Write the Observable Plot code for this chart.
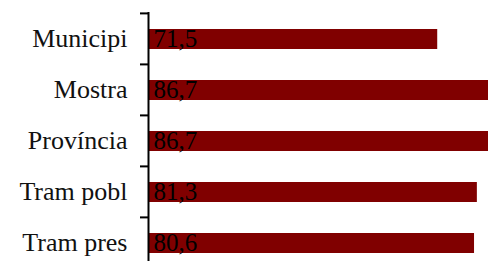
<!DOCTYPE html>
<html>
<head>
<meta charset="utf-8">
<script src="https://cdn.jsdelivr.net/npm/d3@7"></script>
<script src="https://cdn.jsdelivr.net/npm/@observablehq/plot@0.6"></script>
<style>
  html, body { margin: 0; padding: 0; background: #fff; overflow: hidden; }
  svg { overflow: hidden !important; }
</style>
</head>
<body>
<div id="chart"></div>
<script>
const categories = ["Municipi", "Mostra", "Província", "Tram pobl", "Tram pres"];
const values = [71.5, 86.7, 86.7, 81.3, 80.6];
const valueLabels = ["71,5", "86,7", "86,7", "81,3", "80,6"];

const data = categories.map((c, i) => ({cat: c, value: values[i], label: valueLabels[i]}));
const font = "'Liberation Serif', serif";

const chart = Plot.plot({
  width: 488,
  height: 261,
  marginLeft: 148,
  marginTop: 12,
  marginBottom: 0,
  marginRight: 0,
  style: {fontFamily: font, background: "#fff"},
  x: {domain: [0, 100], range: [148, 552.5], axis: null},
  y: {domain: categories, range: [12, 268], padding: 0, axis: null},
  marks: [
    Plot.barX(data, {x: "value", y: "cat", fill: "#800000", insetTop: 16, insetBottom: 15}),
    Plot.text(data, {x: 0, y: "cat", text: "label", textAnchor: "start", dx: 5, fontSize: 25, fill: "#000", fontFamily: font}),
    Plot.ruleX([0], {stroke: "#000", strokeWidth: 2}),
    Plot.axisY({tickSize: 0, tickPadding: 21, fontSize: 26, fill: "#111", fontFamily: font, label: null}),
    Plot.axisY({tickSize: 8, tickFormat: () => "", strokeWidth: 2, stroke: "#000", dy: -25.6, label: null})
  ]
});
document.getElementById("chart").appendChild(chart);
</script>
</body>
</html>
